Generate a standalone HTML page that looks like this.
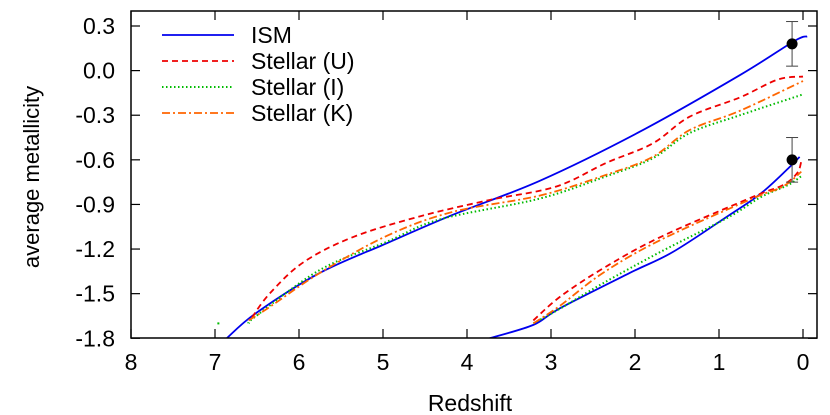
<!DOCTYPE html>
<html><head><meta charset="utf-8"><style>
body{margin:0;background:#fff}
svg{display:block;font-family:"Liberation Sans",sans-serif}
</style></head><body>
<svg id="c" width="830" height="415"></svg>
<script>
const xTicks=[8,7,6,5,4,3,2,1,0];
const yTicks=[0.3,0.0,-0.3,-0.6,-0.9,-1.2,-1.5,-1.8];
const yTickLabels=["0.3","0.0","-0.3","-0.6","-0.9","-1.2","-1.5","-1.8"];
const ismUpperZ=[6.86,6.51,5.75,4.95,4.17,3.13,1.94,0.75,0.1,-0.05];
const ismUpperY=[-1.8,-1.63,-1.36,-1.16,-0.97,-0.74,-0.41,-0.03,0.2,0.23];
const uUpperZ=[6.56,6.35,5.95,5.36,4.56,3.73,2.94,2.34,1.79,1.35,0.75,0.3,0];
const uUpperY=[-1.66,-1.5,-1.29,-1.12,-0.98,-0.87,-0.78,-0.62,-0.49,-0.31,-0.18,-0.06,-0.04];
const iUpperZ=[6.6,6.51,5.75,4.95,4.32,3.13,2.34,1.79,1.35,0.75,0];
const iUpperY=[-1.7,-1.65,-1.34,-1.15,-1.0,-0.86,-0.71,-0.59,-0.42,-0.3,-0.16];
const kUpperZ=[6.6,6.35,5.75,4.95,4.17,3.13,2.34,1.79,1.35,0.75,0];
const kUpperY=[-1.68,-1.59,-1.36,-1.11,-0.95,-0.84,-0.7,-0.58,-0.4,-0.27,-0.07];
const ismLowerZ=[3.73,3.21,2.9,2.06,1.55,0.9,0.51,0.18,0.04];
const ismLowerY=[-1.8,-1.71,-1.6,-1.36,-1.22,-0.98,-0.83,-0.66,-0.58];
const uLowerZ=[3.21,2.89,2.38,1.7,0.6,0.24,0.07,0.02];
const uLowerY=[-1.68,-1.52,-1.33,-1.12,-0.85,-0.77,-0.69,-0.61];
const iLowerZ=[3.21,2.89,2.38,1.7,0.9,0.5,0.18,0.02];
const iLowerY=[-1.7,-1.6,-1.43,-1.22,-0.99,-0.85,-0.77,-0.71];
const kLowerZ=[3.21,2.89,2.38,1.7,0.6,0.24,0.02];
const kLowerY=[-1.7,-1.58,-1.36,-1.14,-0.86,-0.78,-0.68];
const obsZ=[0.13,0.13];
const obsY=[0.18,-0.6];
const obsErr=[0.15,0.15];
const strayZ=[6.96];
const strayY=[-1.7];

const L=131,R=817,T=11,B=338;
const X=z=>803-(z)*84;
const Y=v=>26+(0.3-v)*148.7;
const NS="http://www.w3.org/2000/svg";
const svg=document.getElementById('c');
function mk(t,a,p){const e=document.createElementNS(NS,t);for(const k in a)e.setAttribute(k,a[k]);(p||svg).appendChild(e);return e;}
function pathD(zs,ys){const p=zs.map((z,i)=>[X(z),Y(ys[i])]);let d=`M${p[0][0]},${p[0][1]}`;
for(let i=0;i<p.length-1;i++){const p0=p[i-1]||p[i],p1=p[i],p2=p[i+1],p3=p[i+2]||p2;
d+=` C${p1[0]+(p2[0]-p0[0])/6},${p1[1]+(p2[1]-p0[1])/6} ${p2[0]-(p3[0]-p1[0])/6},${p2[1]-(p3[1]-p1[1])/6} ${p2[0]},${p2[1]}`;}return d;}
const clip=mk('clipPath',{id:'pc'});mk('rect',{x:L,y:T,width:R-L,height:B-T},clip);
const styles={ism:{stroke:'#0000ee',dash:''},u:{stroke:'#ee0000',dash:'6,4'},i:{stroke:'#00bb00',dash:'1.5,2.5'},k:{stroke:'#ff6600',dash:'8,3,2,3'}};
const g=mk('g',{'clip-path':'url(#pc)'});


[['ism',ismUpperZ,ismUpperY,'ism-upper-line'],['u',uUpperZ,uUpperY,'stellar-u-upper-line'],['i',iUpperZ,iUpperY,'stellar-i-upper-line'],['k',kUpperZ,kUpperY,'stellar-k-upper-line'],
 ['ism',ismLowerZ,ismLowerY,'ism-lower-line'],['u',uLowerZ,uLowerY,'stellar-u-lower-line'],['i',iLowerZ,iLowerY,'stellar-i-lower-line'],['k',kLowerZ,kLowerY,'stellar-k-lower-line']].forEach(([s,zs,ys,n])=>{
 const e=mk('path',{d:pathD(zs,ys),fill:'none',stroke:styles[s].stroke,'stroke-width':s==='i'?2:1.8,'stroke-dasharray':styles[s].dash},g);
 
 });
strayZ.forEach((z,i)=>{const e=mk('rect',{x:X(z)-1,y:Y(strayY[i])-1,width:2,height:2,fill:'#00bb00'},g);
 
 });
obsZ.forEach((z,i)=>{const x=X(z),y=Y(obsY[i]),y1=Y(obsY[i]+obsErr[i]),y2=Y(obsY[i]-obsErr[i]);
 const gg=mk('g',{},g);
 
 
 mk('line',{x1:x,x2:x,y1:y1,y2:y2,stroke:'#444','stroke-width':1},gg);
 mk('line',{x1:x-6,x2:x+6,y1:y1,y2:y1,stroke:'#444'},gg);
 mk('line',{x1:x-6,x2:x+6,y1:y2,y2:y2,stroke:'#444'},gg);
 mk('circle',{cx:x,cy:y,r:5.5,fill:'#000'},gg);});
const fr=mk('rect',{x:L,y:T,width:R-L,height:B-T,fill:'none',stroke:'#000','stroke-width':1.5});


xTicks.forEach(t=>{const x=X(t);mk('line',{x1:x,x2:x,y1:B,y2:B-9,stroke:'#000','stroke-width':1.2});mk('line',{x1:x,x2:x,y1:T,y2:T+9,stroke:'#000','stroke-width':1.2});
 const e=mk('text',{x:x,y:370,'text-anchor':'middle','font-size':23});e.textContent=t;
 
 });
yTicks.forEach((t,i)=>{const y=Y(t);mk('line',{x1:L,x2:L+9,y1:y,y2:y,stroke:'#000','stroke-width':1.2});mk('line',{x1:R,x2:R-9,y1:y,y2:y,stroke:'#000','stroke-width':1.2});
 const e=mk('text',{x:115,y:y+8,'text-anchor':'end','font-size':23});e.textContent=yTickLabels[i];
 
 });
const xt=mk('text',{x:470,y:411,'text-anchor':'middle','font-size':23});xt.textContent='Redshift';


const yt=mk('text',{x:0,y:0,'text-anchor':'middle','font-size':22,transform:'translate(39,177) rotate(-90)'});yt.textContent='average metallicity';


const names=['ISM','Stellar (U)','Stellar (I)','Stellar (K)'];const keys=['ism','u','i','k'];
names.forEach((n,i)=>{const y=35+i*26;const lg=mk('g',{});
 
 
 mk('line',{x1:162,x2:234,y1:y,y2:y,stroke:styles[keys[i]].stroke,'stroke-width':keys[i]==='i'?2:1.8,'stroke-dasharray':styles[keys[i]].dash},lg);
 const e=mk('text',{x:251,y:y+8,'font-size':23},lg);e.textContent=n;});
</script>
</body></html>
